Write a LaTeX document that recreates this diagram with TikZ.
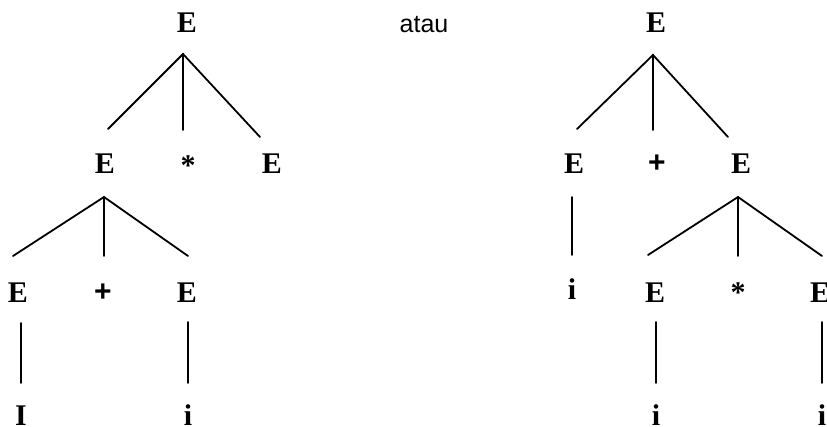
\documentclass[tikz,border=0pt]{standalone}
\usepackage{fontspec}
\newfontfamily\sanf{Liberation Sans}
\newfontfamily\symf{Liberation Serif}
\begin{document}
\begin{tikzpicture}[x=1pt,y=-1pt,
  sym/.style={anchor=base,inner sep=0pt,font=\symf\fontsize{30}{32}\selectfont\bfseries},
  plus/.style={anchor=base,inner sep=0pt,font=\sanf\fontsize{30}{32}\selectfont\bfseries},
  branch/.style={line width=1.8pt,line cap=round}]
\useasboundingbox (0,0) rectangle (827,427);
% ---------- left tree ----------
\node[sym] (l0) at (187,33) {E};
\node[sym] (l1) at (105,174) {E};
\node[sym] (l2) at (188,176) {*};
\node[sym] (l3) at (272,174) {E};
\node[sym] (l4) at (18,303) {E};
\node[plus] (l5) at (103,302) {+};
\node[sym] (l6) at (187,303) {E};
\node[sym] (l7) at (21,425) {I};
\node[sym] (l8) at (188,425) {i};
% ---------- atau ----------
\node[anchor=base,inner sep=0pt,font=\sanf\fontsize{25}{28}\selectfont] (atau) at (424,33) {atau};
% ---------- right tree ----------
\node[sym] (r0) at (656,33) {E};
\node[sym] (r1) at (574,174) {E};
\node[plus] (r2) at (657,173) {+};
\node[sym] (r3) at (741,174) {E};
\node[sym] (r4) at (572,300) {i};
\node[sym] (r5) at (655,303) {E};
\node[sym] (r6) at (738,303) {*};
\node[sym] (r7) at (820,303) {E};
\node[sym] (r8) at (656,425) {i};
\node[sym] (r9) at (822,425) {i};
% ---------- connector points ----------
\coordinate (l0a) at (183,54);
\coordinate (l1t) at (108,129);
\coordinate (l2t) at (183,130);
\coordinate (l3t) at (260,137);
\coordinate (l1a) at (104,197);
\coordinate (l4t) at (13,256);
\coordinate (l5t) at (104,256);
\coordinate (l6t) at (188,256);
\coordinate (l4b) at (21,323);
\coordinate (l7t) at (21,383);
\coordinate (l6b) at (188,322);
\coordinate (l8t) at (188,383);
\coordinate (r0a) at (653,55);
\coordinate (r1t) at (577,129);
\coordinate (r2t) at (653,130);
\coordinate (r3t) at (728,137);
\coordinate (r1b) at (572,197);
\coordinate (r4t) at (572,255);
\coordinate (r3a) at (738,197);
\coordinate (r5t) at (648,255);
\coordinate (r6t) at (738,256);
\coordinate (r7t) at (822,256);
\coordinate (r5b) at (656,322);
\coordinate (r8t) at (656,383);
\coordinate (r7b) at (822,322);
\coordinate (r9t) at (822,383);
% ---------- connectors ----------
\draw[branch] (l1t) -- (l0a) -- (l3t);
\draw[branch] (l0a) -- (l2t);
\draw[branch] (l4t) -- (l1a) -- (l6t);
\draw[branch] (l1a) -- (l5t);
\draw[branch] (l4b) -- (l7t);
\draw[branch] (l6b) -- (l8t);
\draw[branch] (r1t) -- (r0a) -- (r3t);
\draw[branch] (r0a) -- (r2t);
\draw[branch] (r1b) -- (r4t);
\draw[branch] (r5t) -- (r3a) -- (r7t);
\draw[branch] (r3a) -- (r6t);
\draw[branch] (r5b) -- (r8t);
\draw[branch] (r7b) -- (r9t);
\end{tikzpicture}
\end{document}
